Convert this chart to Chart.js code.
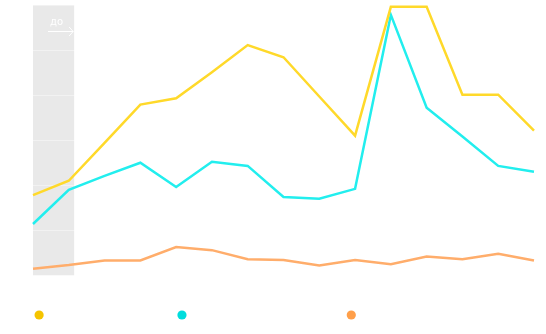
<!DOCTYPE html>
<html>
<head>
<meta charset="utf-8">
<script src="https://cdn.jsdelivr.net/npm/chart.js@4"></script>
<style>
  html, body { margin: 0; padding: 0; background: #fff; }
  #wrap { width: 546px; height: 334px; }
</style>
</head>
<body>
<div id="wrap"><canvas id="chart"></canvas></div>
<script>
// data
var labels = ["1", "2", "3", "4", "5", "6", "7", "8", "9", "10", "11", "12", "13", "14", "15"];
var seriesNames = ["Все посещения сайта", "Уникальные пользователи", "Повторные визиты на сайт"];
var yellowValues = [17.8, 21.0, 29.4, 37.9, 39.3, 45.1, 51.1, 48.4, 39.7, 31.0, 59.6, 59.6, 40.1, 40.1, 32.1];
var cyanValues = [11.4, 19.0, 22.1, 25.0, 19.6, 25.2, 24.3, 17.4, 17.0, 19.2, 57.8, 37.2, 30.8, 24.3, 23.0];
var orangeValues = [1.5, 2.3, 3.3, 3.3, 6.3, 5.6, 3.6, 3.4, 2.2, 3.4, 2.5, 4.2, 3.6, 4.8, 3.3];
var yTicks = [0, 10, 20, 30, 40, 50, 60];
var beforeRange = [0, 1.15];
var beforeLabel = "до";

var lineColors = ["#ffd92a", "#22eeee", "#ffad6b"];
var dotColors = ["#f5c400", "#00dddd", "#ff9f4a"];

// grey "before" band with arrow, drawn under the grid
var bandPlugin = {
    id: "band",
    beforeDraw: function (chart) {
        var ctx = chart.ctx;
        var x = chart.scales.x;
        var area = chart.chartArea;
        var x1 = x.getPixelForValue(beforeRange[0]);
        var x2 = x.getPixelForValue(beforeRange[1]);
        ctx.save();
        ctx.fillStyle = "#e9e9e9";
        ctx.fillRect(x1, area.top, x2 - x1, area.bottom - area.top);

        ctx.fillStyle = "#ffffff";
        ctx.font = "10px 'DejaVu Sans', sans-serif";
        ctx.textAlign = "left";
        ctx.textBaseline = "alphabetic";
        ctx.fillText(beforeLabel, x1 + 17, area.top + 20);

        ctx.strokeStyle = "#ffffff";
        ctx.lineWidth = 1;
        ctx.beginPath();
        ctx.moveTo(x1 + 15, area.top + 26.5);
        ctx.lineTo(x2 - 1, area.top + 26.5);
        ctx.moveTo(x2 - 5, area.top + 22);
        ctx.lineTo(x2 - 1, area.top + 26.5);
        ctx.lineTo(x2 - 5, area.top + 31);
        ctx.stroke();
        ctx.restore();
    }
};

function makeSet(name, values, i) {
    return {
        label: name,
        data: values,
        borderColor: lineColors[i],
        backgroundColor: dotColors[i],
        borderWidth: 2.5,
        pointRadius: 0,
        tension: 0,
        fill: false
    };
}

new Chart(document.getElementById("chart"), {
    type: "line",
    data: {
        labels: labels,
        datasets: [
            makeSet(seriesNames[0], yellowValues, 0),
            makeSet(seriesNames[1], cyanValues, 1),
            makeSet(seriesNames[2], orangeValues, 2)
        ]
    },
    options: {
        responsive: true,
        maintainAspectRatio: false,
        animation: false,
        layout: { padding: { left: 0, right: 0, top: 5, bottom: 3 } },
        plugins: {
            tooltip: { enabled: false },
            legend: {
                position: "bottom",
                labels: {
                    usePointStyle: true,
                    pointStyle: "circle",
                    boxWidth: 6,
                    boxHeight: 6.5,
                    color: "#ffffff",
                    font: { size: 12 },
                    padding: 10,
                    generateLabels: function (chart) {
                        return chart.data.datasets.map(function (ds, i) {
                            return {
                                text: ds.label,
                                fillStyle: dotColors[i],
                                strokeStyle: dotColors[i],
                                lineWidth: 0,
                                pointStyle: "circle",
                                fontColor: "#ffffff",
                                datasetIndex: i,
                                hidden: false
                            };
                        });
                    }
                }
            }
        },
        scales: {
            x: {
                offset: false,
                grid: { display: false },
                border: { display: false },
                ticks: { display: true, color: "#ffffff", font: { size: 8 } }
            },
            y: {
                min: yTicks[0],
                max: yTicks[yTicks.length - 1],
                afterBuildTicks: function (axis) {
                    axis.ticks = yTicks.map(function (v) { return { value: v }; });
                },
                afterFit: function (axis) { axis.width = 33; },
                grid: { color: "rgba(255,255,255,0.4)", lineWidth: 1, drawTicks: false },
                border: { display: false },
                ticks: { display: false }
            },
            yRight: {
                type: "linear",
                position: "right",
                display: true,
                afterFit: function (axis) { axis.width = 12; },
                grid: { display: false, drawTicks: false },
                border: { display: false },
                ticks: { display: false }
            }
        }
    },
    plugins: [bandPlugin]
});
</script>
</body>
</html>
